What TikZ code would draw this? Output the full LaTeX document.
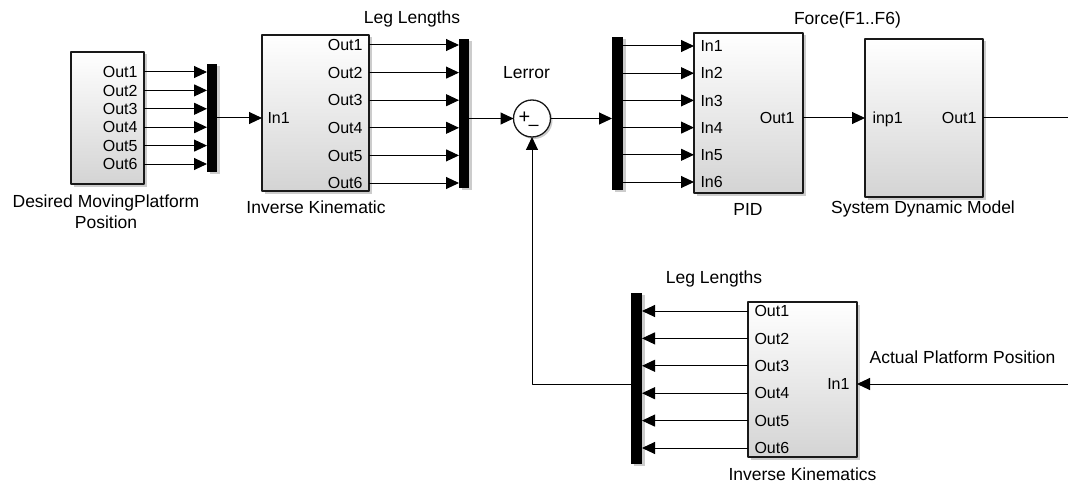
\documentclass[tikz,border=0pt]{standalone}
\usepackage{fontspec}
\setmainfont{Liberation Sans}
\usetikzlibrary{arrows.meta,shadows}
\newcommand{\lblfont}{\fontsize{17.5}{20}\selectfont}
\newcommand{\portfont}{\fontsize{16}{18}\selectfont}
\tikzset{
  every picture/.style={line width=1pt, line join=round,
    >={Triangle[length=13pt,width=12pt]}},
  every node/.style={font=\lblfont},
  % Signale
  sig/.style={->},
  % Bloecke mit Verlauf und Schatten
  blk/.style={draw=black!90, line width=1.3pt, inner sep=0pt, outer sep=0pt,
    top color=white, bottom color=black!17,
    drop shadow={shadow xshift=2.5pt, shadow yshift=-2.5pt, fill=black!40}},
  mux/.style={fill=black, inner sep=0pt, outer sep=0pt,
    drop shadow={shadow xshift=2.5pt, shadow yshift=-2pt, fill=black!40}},
  sumblk/.style={circle, draw=black!90, line width=1.3pt, fill=white, inner sep=0pt,
    outer sep=0pt, minimum size=37pt,
    drop shadow={shadow xshift=2pt, shadow yshift=-2pt, fill=black!40}},
  % Portbeschriftung
  port/.style={font=\portfont, inner sep=0pt, text height=11.5pt, text depth=0pt},
  lbl/.style={inner sep=0pt, anchor=base},
}
\begin{document}
\begin{tikzpicture}[x=1pt, y=-1pt]
  \useasboundingbox (0,0) rectangle (1068,484);
  % Bloecke
  \node[blk, minimum width=73pt, minimum height=132pt] (dmp) at (107.5,118) {};
  \node[blk, minimum width=107pt, minimum height=156pt] (ik) at (315.5,113) {};
  \node[blk, minimum width=109pt, minimum height=160pt] (pid) at (748.5,113) {};
  \node[blk, minimum width=118pt, minimum height=158pt] (sdm) at (924,118) {};
  \node[blk, minimum width=109pt, minimum height=155pt] (iki) at (802.5,379.5) {};
  % Mux-Balken
  \node[mux, minimum width=10pt, minimum height=108pt] (mux1) at (212,118) {};
  \node[mux, minimum width=10pt, minimum height=149pt] (mux2) at (464,113.5) {};
  \node[mux, minimum width=11pt, minimum height=153pt] (mux3) at (617.5,113.5) {};
  \node[mux, minimum width=11pt, minimum height=171pt] (mux4) at (636.5,378.5) {};
  % Summenpunkt
  \node[sumblk] (sum) at (532,118.5) {};
  \node[font=\fontsize{20}{22}\selectfont, inner sep=0pt] (sumplus) at (524.5,118) {+};
  \node[font=\fontsize{18}{20}\selectfont, inner sep=0pt] (summinus) at (533.5,127.5) {–};
  % Ports und Leitungen
  \foreach \i in {1,...,6} {
    \node[port, anchor=east] (dmp-o\i) at (138,{72+18.4*(\i-1)}) {Out\i};
    \draw[sig] (dmp.east |- dmp-o\i) -- (mux1.west |- dmp-o\i);
    \node[port, anchor=east] (ik-o\i) at (363,{45+27.6*(\i-1)}) {Out\i};
    \draw[sig] (ik.east |- ik-o\i) -- (mux2.west |- ik-o\i);
    \node[port, anchor=west] (pid-i\i) at (700,{46+27.2*(\i-1)}) {In\i};
    \draw[sig] (mux3.east |- pid-i\i) -- (pid.west |- pid-i\i);
    \node[port, anchor=west] (iki-o\i) at (754,{311+27.4*(\i-1)}) {Out\i};
    \draw[sig] (iki.west |- iki-o\i) -- (mux4.east |- iki-o\i);
  }
  \node[port, anchor=west] (ik-i1) at (267,118) {In1};
  \node[port, anchor=east] (pid-o1) at (795,118) {Out1};
  \node[port, anchor=west] (sdm-i1) at (872,118) {inp1};
  \node[port, anchor=east] (sdm-o1) at (977,118) {Out1};
  \node[port, anchor=east] (iki-i1) at (850,384) {In1};
  \coordinate (outR) at (1068,118);
  \coordinate (inR) at (1068,384);
  \draw[sig] (mux1.east |- ik-i1) -- (ik.west |- ik-i1);
  \draw[sig] (mux2.east |- sum) -- (sum.west);
  \draw[sig] (sum.east) -- (mux3.west |- sum);
  \draw[sig] (pid.east |- pid-o1) -- (sdm.west |- pid-o1);
  \draw (sdm.east |- sdm-o1) -- (outR);
  \draw[sig] (inR) -- (iki.east |- iki-i1);
  \draw[sig] (mux4.west |- iki-i1) -| (sum.south);
  % Beschriftung
  \node[inner sep=0pt, align=center, font=\fontsize{17.5}{20.5}\selectfont] (dmp-lbl) at (106,211.5)
    {Desired MovingPlatform\\Position};
  \node[lbl] (ik-lbl) at (316,213) {Inverse Kinematic};
  \node[lbl] (pid-lbl) at (748,215) {PID};
  \node[lbl] (sdm-lbl) at (923,213) {System Dynamic Model};
  \node[lbl] (iki-lbl) at (802.5,480) {Inverse Kinematics};
  \node[lbl] (legtop) at (412,24) {Leg Lengths};
  \node[lbl] (lerror) at (526.5,79) {Lerror};
  \node[lbl] (force) at (847.5,25) {Force(F1..F6)};
  \node[lbl] (legbot) at (714,283) {Leg Lengths};
  \node[lbl] (actpos) at (962.5,363) {Actual Platform Position};
\end{tikzpicture}
\end{document}
